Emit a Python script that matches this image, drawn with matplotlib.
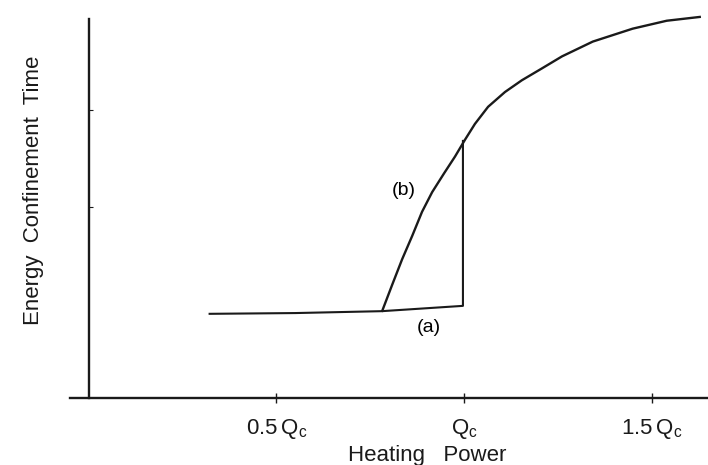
import matplotlib
matplotlib.use("Agg")
import matplotlib.pyplot as plt

plt.rcParams['font.family'] = ['Liberation Sans', 'DejaVu Sans']

# curve (a): flat branch, then vertical jump at Q = Qc
a_power = [0.322, 0.55, 0.781, 0.997, 0.997]
a_tau = [0.222, 0.224, 0.229, 0.243, 0.678]

# curve (b): hysteresis branch continuing into the high-confinement curve
b_power = [0.782, 0.809, 0.835, 0.862, 0.888, 0.915, 0.947, 0.976, 1.003, 1.029,
           1.064, 1.109, 1.154, 1.207, 1.261, 1.343, 1.449, 1.540, 1.628]
b_tau = [0.230, 0.300, 0.366, 0.428, 0.491, 0.543, 0.593, 0.637, 0.682, 0.723,
         0.768, 0.807, 0.838, 0.869, 0.901, 0.940, 0.974, 0.995, 1.005]

tick_pos = [0.5, 1.0, 1.5]
tick_labels = [r'0.5$\,$Q$_\mathregular{c}$', r'Q$_\mathregular{c}$', r'1.5$\,$Q$_\mathregular{c}$']

fig = plt.figure(figsize=(7.08, 4.65), dpi=100)
ax = fig.add_axes([0.0989, 0.1441, 0.9011, 0.848])

ax.plot(a_power, a_tau, color='#1a1a1a', lw=1.5, solid_joinstyle='round')
ax.plot(b_power, b_tau, color='#1a1a1a', lw=1.7, solid_joinstyle='round')

ax.text(0.840, 0.547, '(b)', fontsize=14, ha='center', va='center')
ax.text(0.906, 0.185, '(a)', fontsize=14, ha='center', va='center')

ax.set_xlim(-0.05, 1.65)
ax.set_ylim(0, 1.04)

for s in ['top', 'right']:
    ax.spines[s].set_visible(False)
ax.spines['left'].set_position(('data', 0))
ax.spines['left'].set_bounds(0, 1.0)
ax.spines['left'].set_linewidth(1.7)
ax.spines['bottom'].set_linewidth(1.7)
ax.spines['left'].set_color('#1a1a1a')
ax.spines['bottom'].set_color('#1a1a1a')

ax.set_xticks(tick_pos)
ax.set_xticklabels(tick_labels, fontsize=16)
ax.tick_params(axis='x', direction='inout', length=7, width=1.0, pad=10, colors='#1a1a1a')
ax.set_yticks([0.504, 0.760])
ax.set_yticklabels([])
ax.tick_params(axis='y', direction='in', length=3, width=0.8, colors='#1a1a1a')

fig.text(0.047, 0.59, 'Energy  Confinement  Time', rotation=90, fontsize=16,
         ha='center', va='center', color='#1a1a1a')
fig.text(0.603, 0.02, 'Heating   Power', fontsize=16, ha='center', va='center', color='#1a1a1a')

fig.savefig('out.png', dpi=100, facecolor='white')
